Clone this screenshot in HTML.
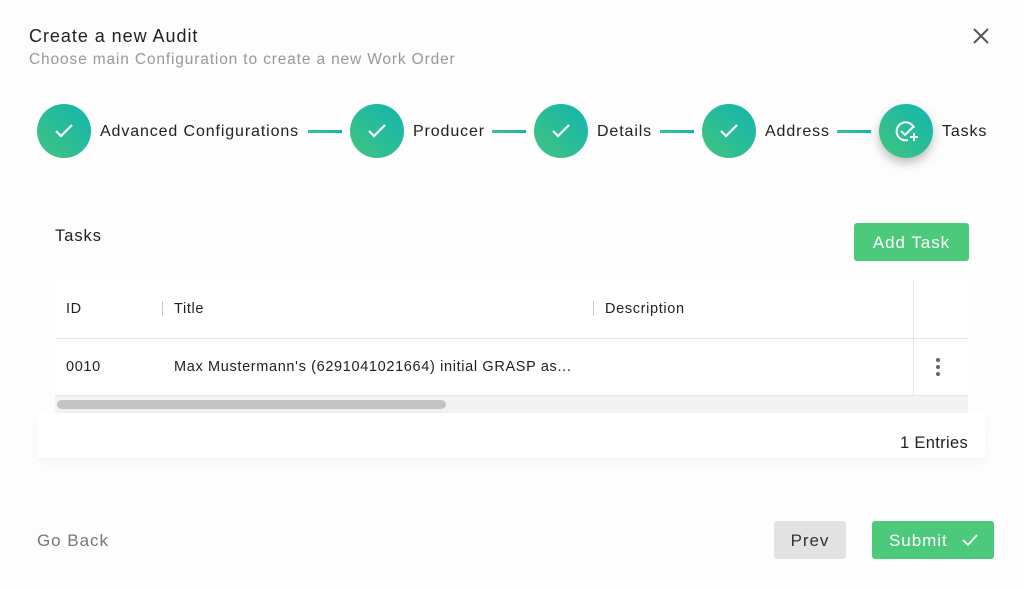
<!DOCTYPE html>
<html><head><style>
body{margin:0;width:1024px;height:589px;background:#fdfdfd;font-family:"Liberation Sans",sans-serif;position:relative;overflow:hidden;color:#222;letter-spacing:.06em}
.a{position:absolute;white-space:nowrap}
.c{position:absolute;width:54px;height:54px;border-radius:50%;background:linear-gradient(45deg,#43c47f,#10b5b0);top:104px}
.c svg{position:absolute;left:15px;top:15px}
.l{position:absolute;height:3px;top:130px;background:linear-gradient(90deg,#3ec47f,#10b5b0)}
.s{font-size:16px;top:123px;color:#222;letter-spacing:.055em}
.t{font-size:14.5px;letter-spacing:.045em}
</style></head><body>
<div class="a" style="left:29px;top:26px;font-size:18px;color:#222">Create a new Audit</div>
<div class="a" style="left:29px;top:51px;font-size:15.5px;color:#999;letter-spacing:.055em">Choose main Configuration to create a new Work Order</div>
<svg class="a" style="left:972px;top:27px" width="18" height="18"><path d="M2 2L16 16M16 2L2 16" stroke="#555" stroke-width="2"/></svg>

<div class="c" style="left:37px"><svg width="24" height="24"><path d="M4 12l5 5L20 6" stroke="#fff" stroke-width="2.2" fill="none"/></svg></div>
<div class="a s" style="left:100px">Advanced Configurations</div>
<div class="l" style="left:308px;width:34px"></div>
<div class="c" style="left:350px"><svg width="24" height="24"><path d="M4 12l5 5L20 6" stroke="#fff" stroke-width="2.2" fill="none"/></svg></div>
<div class="a s" style="left:413px">Producer</div>
<div class="l" style="left:492px;width:34px"></div>
<div class="c" style="left:534px"><svg width="24" height="24"><path d="M4 12l5 5L20 6" stroke="#fff" stroke-width="2.2" fill="none"/></svg></div>
<div class="a s" style="left:597px">Details</div>
<div class="l" style="left:660px;width:34px"></div>
<div class="c" style="left:702px"><svg width="24" height="24"><path d="M4 12l5 5L20 6" stroke="#fff" stroke-width="2.2" fill="none"/></svg></div>
<div class="a s" style="left:765px">Address</div>
<div class="l" style="left:837px;width:34px"></div>
<div class="c" style="left:879px;box-shadow:0 5px 10px rgba(0,0,0,.25)"><svg width="26" height="26"><path d="M20 9A9 9 0 1 0 14 21" stroke="#fff" stroke-width="2" fill="none"/><path d="M7 12l4 4 9-9" stroke="#fff" stroke-width="2" fill="none"/><path d="M20 14v8M16 18h8" stroke="#fff" stroke-width="2"/></svg></div>
<div class="a s" style="left:942px">Tasks</div>

<div class="a" style="left:55px;top:227px;font-size:16.5px">Tasks</div>
<div class="a" style="left:854px;top:223px;width:115px;height:38px;background:#4cc97b;border-radius:3px;color:#fff;font-size:17px;line-height:39px;text-align:center">Add Task</div>

<div class="a" style="left:55px;top:280px;width:913px;height:130px;background:#fff"></div>
<div class="a t" style="left:66px;top:301px">ID</div>
<div class="a" style="left:162px;top:301px;width:1px;height:15px;background:#ccc"></div>
<div class="a t" style="left:174px;top:301px">Title</div>
<div class="a" style="left:593px;top:301px;width:1px;height:15px;background:#ccc"></div>
<div class="a t" style="left:605px;top:301px">Description</div>
<div class="a" style="left:913px;top:280px;width:1px;height:115px;background:#e5e5e5"></div>
<div class="a" style="left:55px;top:338px;width:913px;height:1px;background:#e5e5e5"></div>
<div class="a t" style="left:66px;top:359px">0010</div>
<div class="a t" style="left:174px;top:359px">Max Mustermann's (6291041021664) initial GRASP as...</div>
<svg class="a" style="left:934px;top:357px" width="8" height="20"><circle cx="4" cy="3" r="2" fill="#666"/><circle cx="4" cy="10" r="2" fill="#666"/><circle cx="4" cy="17" r="2" fill="#666"/></svg>
<div class="a" style="left:55px;top:395px;width:913px;height:17px;background:#f3f3f3;border-top:1px solid #e5e5e5"></div>
<div class="a" style="left:57px;top:400px;width:389px;height:9px;background:#c4c4c4;border-radius:5px"></div>
<div class="a" style="left:37px;top:413px;width:948px;height:45px;background:#fff;box-shadow:0 4px 8px rgba(0,0,0,.04)"></div>
<div class="a" style="left:900px;top:434px;font-size:16.5px;letter-spacing:.02em">1 Entries</div>

<div class="a" style="left:37px;top:531px;font-size:17px;color:#777">Go Back</div>
<div class="a" style="left:774px;top:521px;width:72px;height:38px;background:#e2e2e2;border-radius:3px;font-size:17px;line-height:39px;text-align:center;color:#333">Prev</div>
<div class="a" style="left:872px;top:521px;width:122px;height:38px;background:#4cc97b;border-radius:3px;color:#fff;font-size:17px;line-height:39px"><span style="margin-left:17px">Submit</span><svg style="position:absolute;left:90px;top:12px" width="16" height="14"><path d="M1 7l5 5L15 2" stroke="#fff" stroke-width="1.8" fill="none"/></svg></div>
</body></html>
